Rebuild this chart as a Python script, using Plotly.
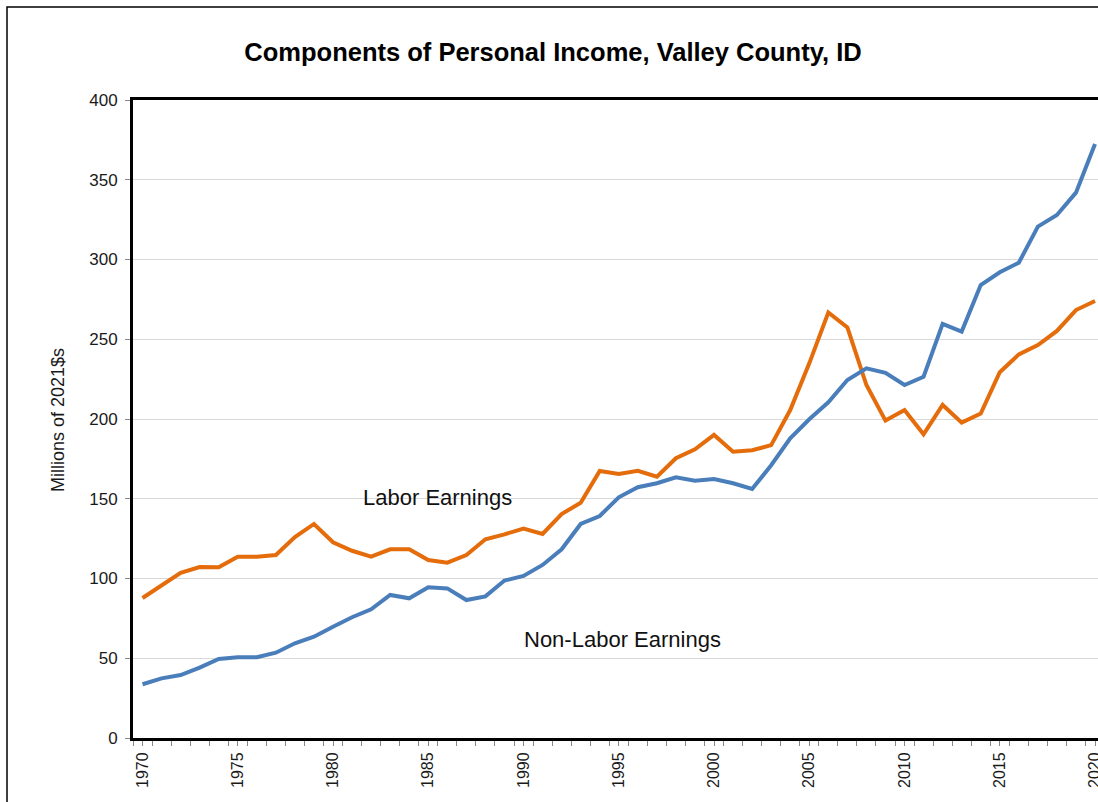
import plotly.graph_objects as go

years = list(range(1970, 2021))

labor_earnings = [
    87.8, 95.5, 103.6, 107.2, 107.0, 113.7, 113.7, 114.7, 126.0, 134.2,
    122.7, 117.4, 113.7, 118.3, 118.3, 111.6, 109.9, 114.7, 124.6, 127.7,
    131.3, 127.9, 140.4, 147.5, 167.4, 165.5, 167.5, 163.8, 175.4, 181.0,
    190.0, 179.5, 180.4, 183.6, 205.6, 234.9, 266.8, 257.4, 221.3, 199.0,
    205.6, 190.4, 208.8, 197.7, 203.4, 229.3, 240.5, 246.4, 255.2, 268.3,
    274.0,
]

non_labor_earnings = [
    33.7, 37.4, 39.5, 44.1, 49.5, 50.6, 50.6, 53.5, 59.4, 63.5,
    69.8, 75.7, 80.7, 89.7, 87.6, 94.5, 93.8, 86.5, 88.8, 98.7,
    101.6, 108.5, 118.3, 134.2, 139.2, 150.9, 157.2, 159.7, 163.4, 161.3,
    162.4, 159.7, 156.1, 171.0, 187.9, 199.8, 210.5, 224.5, 231.8, 229.0,
    221.3, 226.5, 259.6, 254.8, 284.0, 292.0, 298.0, 320.6, 327.9, 341.9,
    372.4,
]

y_ticks = [0, 50, 100, 150, 200, 250, 300, 350, 400]
x_ticks = list(range(1970, 2021, 5))

title_text = "Components of Personal Income, Valley County, ID"
y_title = "Millions of 2021$s"
label_labor = "Labor Earnings"
label_nonlabor = "Non-Labor Earnings"

FONT = "Liberation Sans, Arial, sans-serif"

W, H = 1098, 802
L, T, B = 133, 100, 64
PW = W - L
PH = H - T - B
PX_PER_YEAR = 19.05

fig = go.Figure()
fig.add_trace(go.Scatter(
    x=years, y=labor_earnings, mode="lines", name=label_labor,
    line=dict(color="#E46C0A", width=4),
))
fig.add_trace(go.Scatter(
    x=years, y=non_labor_earnings, mode="lines", name=label_nonlabor,
    line=dict(color="#4A7EBB", width=4),
))

fig.update_layout(
    width=W, height=H,
    margin=dict(l=L, r=0, t=T, b=B),
    paper_bgcolor="white", plot_bgcolor="white",
    showlegend=False,
    font=dict(family=FONT, color="#1a1a1a"),
    title=dict(
        text="<b>" + title_text + "</b>",
        x=553 / W, xanchor="center",
        y=1 - 52 / H, yanchor="middle",
        font=dict(size=25.5, family=FONT, color="black"),
    ),
)

fig.update_xaxes(
    range=[1969.5, 1969.5 + PW / PX_PER_YEAR],
    automargin=False,
    tickmode="array", tickvals=x_ticks, ticktext=[str(t) for t in x_ticks],
    tickangle=-90, ticks="outside", ticklen=5, tickcolor="#888888",
    tickfont=dict(size=16, family=FONT, color="#1a1a1a"),
    ticklabeloverflow="allow",
    showgrid=False, zeroline=False,
    showline=True, linecolor="black", linewidth=3, mirror=True,
    minor=dict(tick0=1969.5, dtick=1, ticks="outside", ticklen=5,
               tickcolor="#888888", showgrid=False),
)

fig.update_yaxes(
    range=[0, 400],
    automargin=False,
    tickmode="array", tickvals=y_ticks,
    ticks="outside", ticklen=5, tickcolor="#888888",
    tickfont=dict(size=17, family=FONT, color="#1a1a1a"),
    ticklabelstandoff=4,
    showgrid=True, gridcolor="#d9d9d9", gridwidth=1, zeroline=False,
    showline=True, linecolor="black", linewidth=3, mirror=False,
)

# y-axis title
fig.add_annotation(x=(58 - L) / PW, y=(PH - (420 - T)) / PH,
                   xref="paper", yref="paper", text=y_title, textangle=-90,
                   showarrow=False, font=dict(size=18, family=FONT, color="#1a1a1a"),
                   xanchor="center", yanchor="middle")

fig.add_annotation(x=1985.5, y=151, xref="x", yref="y", text=label_labor,
                   showarrow=False, font=dict(size=22, family=FONT, color="#111"),
                   xanchor="center", yanchor="middle")
fig.add_annotation(x=1995.2, y=62, xref="x", yref="y", text=label_nonlabor,
                   showarrow=False, font=dict(size=22, family=FONT, color="#111"),
                   xanchor="center", yanchor="middle")

# outer chart-area border
fig.add_shape(type="rect", xref="paper", yref="paper",
              x0=(7 - L) / PW, x1=1.3, y0=-0.3, y1=(PH + T - 7) / PH,
              line=dict(color="black", width=1.5), fillcolor="rgba(0,0,0,0)",
              layer="below")

fig.write_html(
    "out.html",
    config={"displayModeBar": False},
    post_script="document.body.style.margin='0';document.body.style.overflow='hidden';",
)
